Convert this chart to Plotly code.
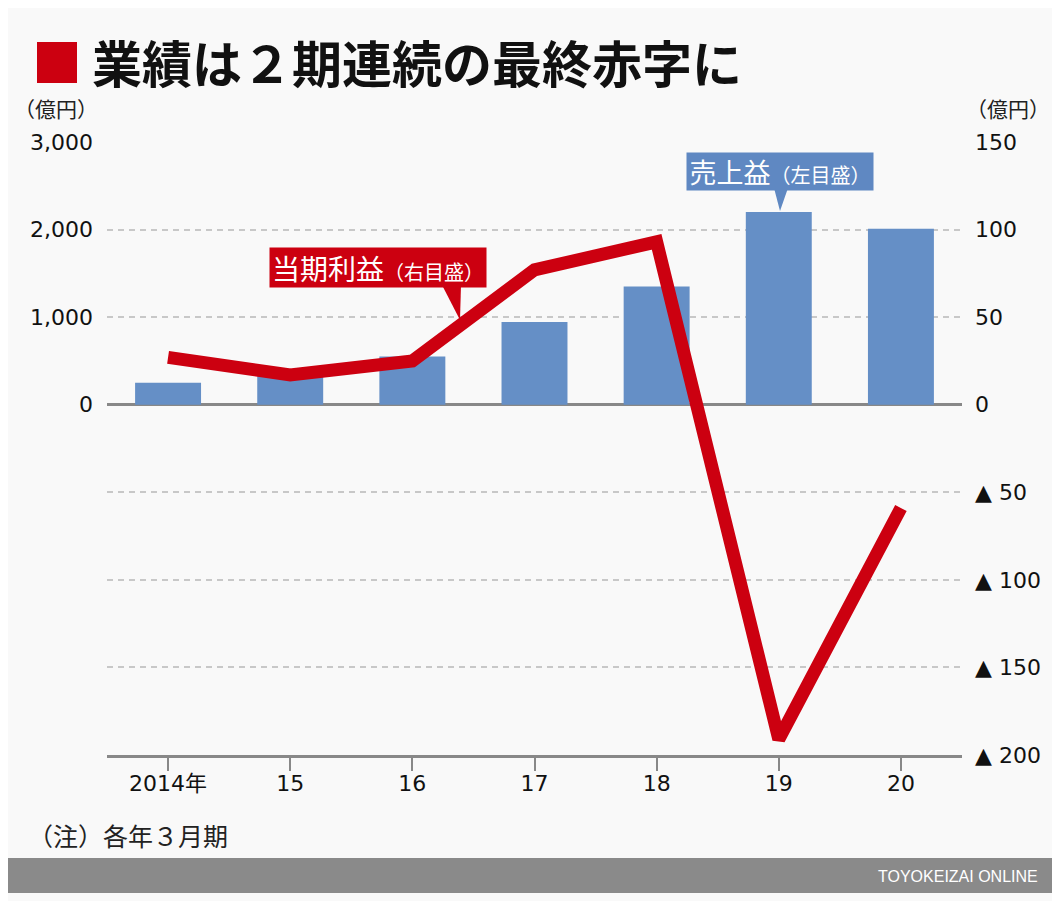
import plotly.graph_objects as go

# データ(億円)
years = ["2014年", "15", "16", "17", "18", "19", "20"]
revenue = [250, 350, 550, 945, 1350, 2200, 2010]   # 売上益(左目盛)
profit = [27, 17, 25, 77, 93, -191, -59]           # 当期利益(右目盛)

left_ticks = [-3000, -2000, -1000, 0, 1000, 2000, 3000]
left_text = ["", "", "", "0", "1,000", "2,000", "3,000"]
right_ticks = [-200, -150, -100, -50, 0, 50, 100, 150]
right_text = ["▲ 200", "▲ 150", "▲ 100", "▲ 50", "0", "50", "100", "150"]

# ページの余白 8px を差し引いたサイズ
OFF = 8
W, H = 1060 - OFF, 901 - OFF
L, R, T, B = 107, 962, 142, 755   # 参照画像上のプロット領域
BLUE = "#658fc6"
BOX_BLUE = "#5f88c2"
RED = "#cc0010"
FONT = "DejaVu Sans, Noto Sans CJK JP, sans-serif"
JP = "Noto Sans CJK JP, sans-serif"


def px(x):
    return (x - L) / (R - L)


def py(y):
    return (B - y) / (B - T)


fig = go.Figure()

fig.add_trace(go.Bar(
    x=years, y=revenue, marker=dict(color=BLUE, line=dict(width=0)),
    yaxis="y", showlegend=False, hoverinfo="y",
))
fig.add_trace(go.Scatter(
    x=years, y=profit, mode="lines", yaxis="y2",
    line=dict(color=RED, width=13), showlegend=False, hoverinfo="y",
))

shapes = [
    # タイトルの赤い四角
    dict(type="rect", xref="paper", yref="paper", x0=px(37), x1=px(77),
         y0=py(83), y1=py(42), fillcolor=RED, line=dict(width=0), layer="above"),
    # フッター帯
    dict(type="rect", xref="paper", yref="paper", x0=px(0), x1=px(1070),
         y0=py(893), y1=py(858), fillcolor="#8a8a8a", line=dict(width=0), layer="above"),
    # 吹き出しの三角(売上益)
    dict(type="path", xref="paper", yref="paper",
         path=f"M {px(774)},{py(188)} L {px(788)},{py(188)} L {px(780)},{py(211)} Z",
         fillcolor=BOX_BLUE, line=dict(width=0), layer="above"),
    # 吹き出しの三角(当期利益)
    dict(type="path", xref="paper", yref="paper",
         path=f"M {px(442)},{py(285)} L {px(461)},{py(285)} L {px(460)},{py(320)} Z",
         fillcolor=RED, line=dict(width=0), layer="above"),
]

annotations = [
    dict(text="<b>業績は２期連続の最終赤字に</b>", xref="paper", yref="paper",
         x=px(90), y=py(61), xanchor="left", yanchor="middle", showarrow=False,
         font=dict(family=JP, size=50, color="#111")),
    dict(text="（億円）", xref="paper", yref="paper", x=px(100), y=py(108),
         xanchor="right", yanchor="middle", showarrow=False,
         font=dict(family=JP, size=21, color="#222")),
    dict(text="（億円）", xref="paper", yref="paper", x=px(964), y=py(108),
         xanchor="left", yanchor="middle", showarrow=False,
         font=dict(family=JP, size=21, color="#222")),
    dict(text="売上益<span style='font-size:20px'>（左目盛）</span>", xref="paper", yref="paper",
         x=px(780), y=py(171), xanchor="center", yanchor="middle", showarrow=False,
         font=dict(family=JP, size=27, color="white"), bgcolor=BOX_BLUE,
         width=184, height=35, borderpad=1),
    dict(text="当期利益<span style='font-size:20px'>（右目盛）</span>", xref="paper", yref="paper",
         x=px(378), y=py(267), xanchor="center", yanchor="middle", showarrow=False,
         font=dict(family=JP, size=28, color="white"), bgcolor=RED,
         width=214, height=37, borderpad=1),
    dict(text="（注）各年３月期", xref="paper", yref="paper", x=px(26), y=py(835),
         xanchor="left", yanchor="middle", showarrow=False,
         font=dict(family=JP, size=25, color="#222")),
    dict(text="TOYOKEIZAI ONLINE", xref="paper", yref="paper", x=px(1040), y=py(876),
         xanchor="right", yanchor="middle", showarrow=False,
         font=dict(family="Liberation Sans, sans-serif", size=16, color="white")),
]

fig.update_layout(
    width=W, height=H,
    margin=dict(l=L - OFF, r=W - (R - OFF), t=T - OFF, b=H - (B - OFF), pad=0),
    paper_bgcolor="#f9f9f9", plot_bgcolor="#f9f9f9",
    bargap=0.46,
    font=dict(family=FONT, size=22, color="#111"),
    xaxis=dict(
        type="category", range=[-0.5, 6.5], showline=True, linecolor="#888",
        linewidth=3, ticks="outside", ticklen=13, tickwidth=1.5, tickcolor="#888",
        showgrid=False, zeroline=False, tickfont=dict(size=22),
        ticklabelstandoff=-6,
    ),
    yaxis=dict(
        range=[-4000, 3000], tickvals=left_ticks, ticktext=left_text,
        showgrid=True, gridcolor="#c8c8c8", griddash="6px,5px", gridwidth=1.5,
        zeroline=True, zerolinecolor="#888", zerolinewidth=3,
        ticks="", ticklabelstandoff=13, tickfont=dict(size=22),
    ),
    yaxis2=dict(
        range=[-200, 150], tickvals=right_ticks, ticktext=right_text,
        overlaying="y", side="right", showgrid=False, zeroline=False,
        ticks="", ticklabelstandoff=12, tickfont=dict(size=22),
    ),
    shapes=shapes,
    annotations=annotations,
)

fig.write_html("out.html")
